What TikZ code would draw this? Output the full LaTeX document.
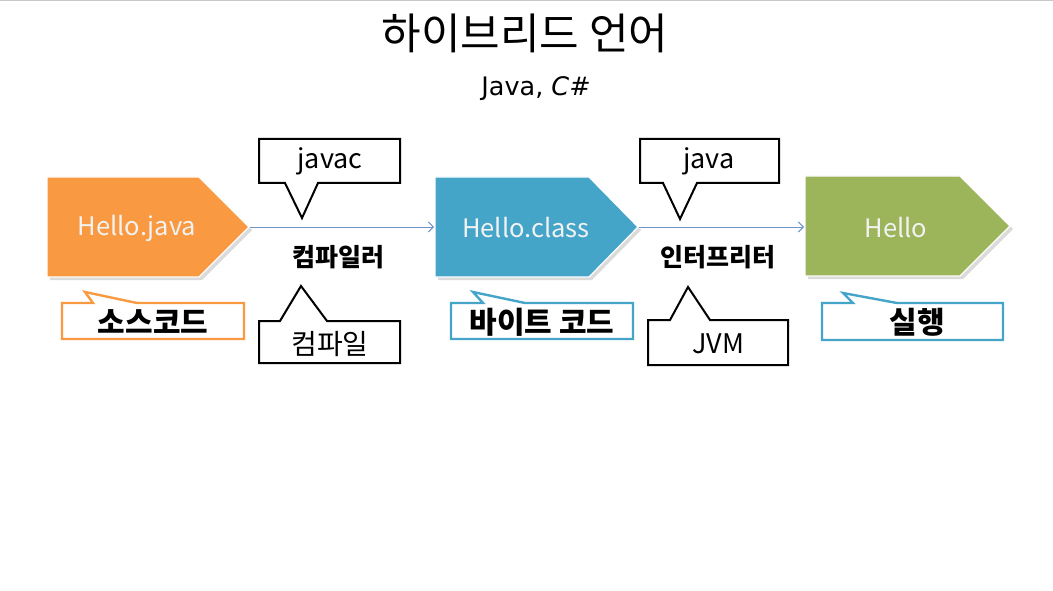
\documentclass[tikz,border=0pt]{standalone}
\usepackage{fontspec}
\setmainfont{Noto Sans CJK KR}
\newfontfamily\comicf{DejaVu Sans}
\usetikzlibrary{arrows.meta}
\definecolor{orgF}{HTML}{F99A42}
\definecolor{bluF}{HTML}{44A5C9}
\definecolor{grnF}{HTML}{9CB45A}
\definecolor{arrC}{HTML}{6E93C9}
\definecolor{txtW}{HTML}{F2F2F2}
\definecolor{frameC}{HTML}{C8C8C8}
\tikzset{
  penta/.style={draw=white, line width=1.2pt},
  pshadow/.style={fill=black!14, draw=none},
  conn/.style={draw=arrC, line width=0.9pt, -{Straight Barb[length=5pt,width=10pt]}},
  bcall/.style={draw=black, line width=2pt, fill=white, line join=miter},
  ccall/.style={line width=2.4pt, fill=white, line join=miter},
  ptext/.style={text=txtW, font=\fontsize{25.5}{28}\selectfont, inner sep=0pt},
  ctext/.style={font=\fontsize{27}{30}\selectfont, inner sep=0pt},
  ktext/.style={font=\fontsize{30}{32}\selectfont\bfseries, inner sep=0pt},
  ltext/.style={font=\fontsize{25}{27}\selectfont\bfseries, inner sep=0pt}
}
\begin{document}
\begin{tikzpicture}[x=1pt,y=-1pt]
\useasboundingbox (0,0) rectangle (1053,591);
\fill[white] (0,0) rectangle (1053,591);
\draw[frameC, line width=1.5pt] (0,0.75) -- (1053,0.75);

% title
\node[font=\fontsize{43}{46}\selectfont, inner sep=0pt] (title) at (525,33) {하이브리드 언어};
\node[font=\comicf\fontsize{25.5}{28}\selectfont, inner sep=0pt] (sub) at (536,89) {Java, \textit{C\#}};

% shadows
\fill[pshadow] (50,180) -- (202,180) -- (252,230) -- (202,280) -- (50,280) -- cycle;
\fill[pshadow] (438,180) -- (592,180) -- (641,230) -- (592,280) -- (438,280) -- cycle;
\fill[pshadow] (808,179) -- (963,179) -- (1013,229) -- (963,279) -- (808,279) -- cycle;

% pentagons
\path[penta, fill=orgF] (47,177) -- (199,177) -- (249,227) -- (199,277) -- (47,277) -- cycle;
\path[penta, fill=bluF] (435,177) -- (589,177) -- (638,227) -- (589,277) -- (435,277) -- cycle;
\path[penta, fill=grnF] (805,176) -- (960,176) -- (1010,226) -- (960,276) -- (805,276) -- cycle;

\coordinate (jtip) at (250,227);
\coordinate (cleft) at (434,227);
\coordinate (ctip) at (639,227);
\coordinate (hleft) at (804,227);

\node[ptext] (hj) at (137,228) {Hello.java};
\node[ptext] (hc) at (526,228) {Hello.class};
\node[ptext] (hh) at (896,228) {Hello};

% connectors
\draw[conn] (jtip) -- (cleft);
\draw[conn] (ctip) -- (hleft);

% black callouts
\path[bcall] (259,139) -- (400,139) -- (400,183) -- (318,183) -- (302,218) -- (285,183) -- (259,183) -- cycle;
\node[ctext] (javac) at (330,161) {javac};
\path[bcall] (259,321) -- (280,321) -- (301,286) -- (327,321) -- (400,321) -- (400,363) -- (259,363) -- cycle;
\node[ctext, font=\fontsize{28}{30}\selectfont] (comp) at (330,344) {컴파일};

\path[bcall] (640,139) -- (779,139) -- (779,183) -- (697,183) -- (680,219) -- (663,183) -- (640,183) -- cycle;
\node[ctext] (java) at (709,161) {java};
\path[bcall] (648,320) -- (670,320) -- (688,287) -- (710,320) -- (788,320) -- (788,365) -- (648,365) -- cycle;
\node[ctext] (jvm) at (718,344) {JVM};

% labels under arrows
\node[ltext] (compiler) at (338,257) {컴파일러};
\node[ltext] (interp) at (718,257) {인터프리터};

% colored callouts
\path[ccall, draw=orgF] (62,303) -- (93,303) -- (85,292) -- (137,303) -- (244,303) -- (244,339) -- (62,339) -- cycle;
\node[ktext] (src) at (153,322) {소스코드};
\path[ccall, draw=bluF] (451,303) -- (483,303) -- (473,292) -- (525,303) -- (633,303) -- (633,339) -- (451,339) -- cycle;
\node[ktext] (byte) at (542,322) {바이트 코드};
\path[ccall, draw=bluF] (822,303) -- (853,303) -- (843,293) -- (897,303) -- (1003,303) -- (1003,340) -- (822,340) -- cycle;
\node[ktext] (run) at (917,322) {실행};
\end{tikzpicture}
\end{document}
